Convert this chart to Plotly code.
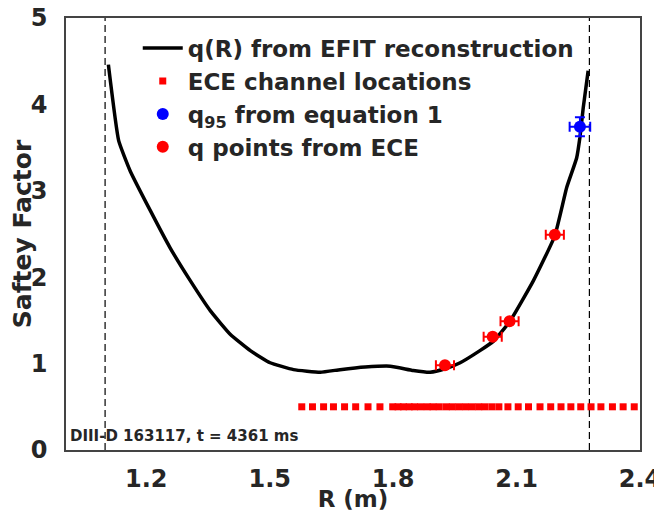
import plotly.graph_objects as go

# q(R) profile
efit_r = [1.108, 1.133, 1.161, 1.210, 1.258, 1.307, 1.356, 1.404, 1.453, 1.501,
          1.558, 1.623, 1.671, 1.732, 1.793, 1.849, 1.890, 1.926, 1.963, 2.011,
          2.044, 2.084, 2.141, 2.193, 2.222, 2.246, 2.254, 2.262, 2.274]
efit_q = [4.46, 3.58, 3.23, 2.77, 2.34, 1.96, 1.61, 1.34, 1.15, 1.01,
          0.93, 0.90, 0.93, 0.96, 0.97, 0.92, 0.90, 0.94, 1.01, 1.15,
          1.26, 1.49, 1.96, 2.48, 3.04, 3.38, 3.62, 3.96, 4.39]

# ECE channel locations (drawn at q = 0.5)
ece_chan_r = [1.578, 1.604, 1.631, 1.655, 1.682, 1.709, 1.739, 1.768, 1.799, 1.812,
              1.825, 1.839, 1.852, 1.867, 1.883, 1.897, 1.912, 1.929, 1.944, 1.960,
              1.976, 1.992, 2.008, 2.023, 2.040, 2.057, 2.079, 2.104, 2.129, 2.157,
              2.183, 2.208, 2.232, 2.256, 2.281, 2.305, 2.333, 2.359, 2.386]
ece_chan_level = 0.5

# q points from ECE
ece_r = [1.926, 2.042, 2.083, 2.193]
ece_q = [0.98, 1.31, 1.49, 2.49]
ece_rerr = [0.022, 0.022, 0.022, 0.022]

# q95 from equation 1
q95_r = [2.254]
q95_q = [3.74]
q95_rerr = [0.025]
q95_qerr = [0.11]

# separatrix positions
sep_r = [1.100, 2.277]

x_ticks = [1.2, 1.5, 1.8, 2.1, 2.4]
y_ticks = [0, 1, 2, 3, 4, 5]

txt = "#262626"
font = "DejaVu Sans"

fig = go.Figure()

fig.add_trace(go.Scatter(x=efit_r, y=efit_q, mode="lines",
                         line=dict(color="black", width=3.5, shape="spline", smoothing=0.4),
                         name="<b>q(R) from EFIT reconstruction</b>"))
fig.add_trace(go.Scatter(x=ece_chan_r, y=[ece_chan_level] * len(ece_chan_r), mode="markers",
                         marker=dict(symbol="square", size=7, color="red"),
                         name="<b>ECE channel locations</b>"))
fig.add_trace(go.Scatter(x=q95_r, y=q95_q, mode="markers",
                         marker=dict(size=12, color="blue"),
                         error_x=dict(type="data", array=q95_rerr, color="blue", thickness=2, width=5),
                         error_y=dict(type="data", array=q95_qerr, color="blue", thickness=2, width=5),
                         name="<b>q<sub>95</sub> from equation 1</b>"))
fig.add_trace(go.Scatter(x=ece_r, y=ece_q, mode="markers",
                         marker=dict(size=12, color="red"),
                         error_x=dict(type="data", array=ece_rerr, color="red", thickness=2, width=5),
                         name="<b>q points from ECE</b>"))

for r in sep_r:
    fig.add_vline(x=r, line=dict(color="black", width=1.2, dash="7px,4px"), layer="below")

fig.add_annotation(text="<b>DIII-D 163117, t = 4361 ms</b>", xref="paper", yref="paper",
                   x=0.004, y=0.008, xanchor="left", yanchor="bottom", showarrow=False,
                   font=dict(family=font, size=15, color=txt))

axis_common = dict(showgrid=False, zeroline=False, showline=True, mirror=True,
                   linecolor="#444444", linewidth=1.5, ticks="", automargin=False,
                   ticklabeloverflow="allow",
                   tickfont=dict(family=font, size=24, color=txt))

fig.update_xaxes(range=[1.005, 2.4], tickvals=x_ticks, ticktext=[f"<b>{v}</b>" for v in x_ticks],
                 ticklabelstandoff=6,
                 title=dict(text="<b>R (m)</b>", font=dict(family=font, size=23, color=txt), standoff=4),
                 **axis_common)
fig.update_yaxes(range=[0, 5], tickvals=y_ticks, ticktext=[f"<b>{v}</b>" for v in y_ticks],
                 ticklabelstandoff=12,
                 title=dict(text="<b>Saftey Factor</b>", font=dict(family=font, size=25, color=txt), standoff=8),
                 **axis_common)

# page body adds an 8px offset, so the figure is sized to the visible area
fig.update_layout(
    width=654, height=504,
    margin=dict(l=58, r=22, t=10, b=62),
    plot_bgcolor="white", paper_bgcolor="white",
    font=dict(family=font, color=txt),
    legend=dict(x=0.125, y=0.98, xanchor="left", yanchor="top",
                bgcolor="rgba(255,255,255,0)", borderwidth=0,
                font=dict(family=font, size=23, color=txt),
                tracegroupgap=0, itemwidth=40),
    showlegend=True,
)

fig.write_html("out.html")
